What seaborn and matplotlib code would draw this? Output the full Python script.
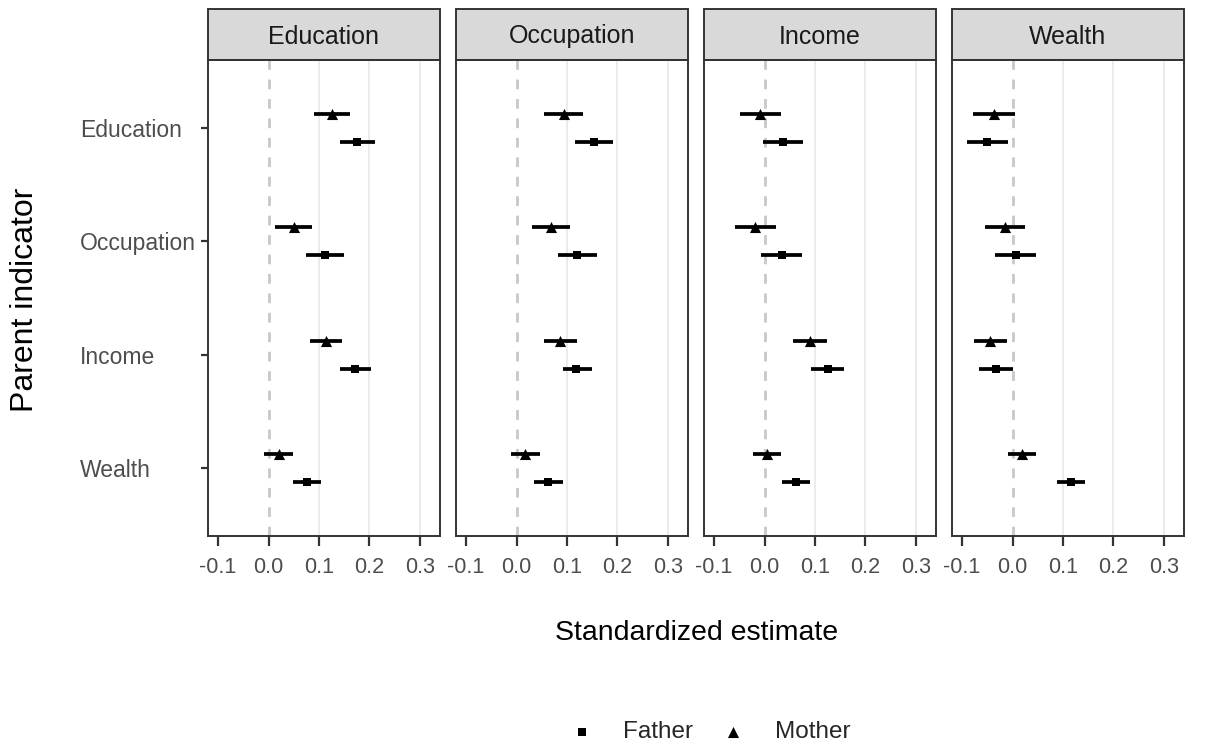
import numpy as np
import pandas as pd
import seaborn as sns
import matplotlib
matplotlib.use("Agg")
import matplotlib.pyplot as plt
from matplotlib.patches import Rectangle

# Child outcome panels and parent indicator rows
outcomes = ["Education", "Occupation", "Income", "Wealth"]
indicators = ["Education", "Occupation", "Income", "Wealth"]
parents = ["Father", "Mother"]

# Estimates and 95% CIs, one row per outcome panel, columns follow `indicators`
father_est = [[0.176, 0.112, 0.172, 0.076],
              [0.153, 0.120, 0.118, 0.063],
              [0.036, 0.034, 0.125, 0.063],
              [-0.050, 0.006, -0.032, 0.116]]
father_lo = [[0.141, 0.075, 0.142, 0.049],
             [0.116, 0.082, 0.092, 0.035],
             [-0.003, -0.007, 0.093, 0.035],
             [-0.090, -0.034, -0.066, 0.089]]
father_hi = [[0.211, 0.149, 0.203, 0.104],
             [0.191, 0.159, 0.150, 0.092],
             [0.076, 0.075, 0.158, 0.091],
             [-0.009, 0.046, 0.001, 0.143]]
mother_est = [[0.125, 0.050, 0.113, 0.020],
              [0.094, 0.069, 0.086, 0.017],
              [-0.008, -0.018, 0.090, 0.005],
              [-0.037, -0.015, -0.044, 0.019]]
mother_lo = [[0.090, 0.013, 0.083, -0.008],
             [0.055, 0.031, 0.054, -0.011],
             [-0.048, -0.058, 0.057, -0.023],
             [-0.079, -0.054, -0.077, -0.008]]
mother_hi = [[0.162, 0.087, 0.145, 0.049],
             [0.132, 0.107, 0.119, 0.046],
             [0.032, 0.023, 0.123, 0.032],
             [0.005, 0.025, -0.011, 0.046]]

x_ticks = [-0.1, 0.0, 0.1, 0.2, 0.3]
x_tick_labels = ["-0.1", "0.0", "0.1", "0.2", "0.3"]

# Long-form table
rows = []
for o, outcome in enumerate(outcomes):
    for i, ind in enumerate(indicators):
        rows.append(dict(outcome=outcome, indicator=ind, parent="Father",
                         est=father_est[o][i], lo=father_lo[o][i], hi=father_hi[o][i]))
        rows.append(dict(outcome=outcome, indicator=ind, parent="Mother",
                         est=mother_est[o][i], lo=mother_lo[o][i], hi=mother_hi[o][i]))
df = pd.DataFrame(rows)
n_ind = len(indicators)
dodge = {"Father": -0.125, "Mother": 0.125}
df["ypos"] = [n_ind - indicators.index(r.indicator) + dodge[r.parent] for r in df.itertuples()]

sns.set_theme(style="white")
plt.rcParams["font.family"] = ["Liberation Sans", "DejaVu Sans"]

W, H = 1206, 745
fig = plt.figure(figsize=(W / 100, H / 100), dpi=100)

panel_left = [208, 456, 704, 952]
panel_w = 232
panel_top, panel_bot = 60, 536
strip_h = 51
panel_h = panel_bot - panel_top

frame_col = "#333333"
tick_col = "#4d4d4d"
markers = {"Father": "s", "Mother": "^"}
sizes = {"Father": 40, "Mother": 64}

axes = []
legend_handles = {}
for o, outcome in enumerate(outcomes):
    ax = fig.add_axes([panel_left[o] / W, 1 - panel_bot / H, panel_w / W, panel_h / H])
    axes.append(ax)
    sub = df[df.outcome == outcome]

    for g in [0.1, 0.2, 0.3]:
        ax.axvline(g, color="#ebebeb", lw=1.4, zorder=0)
    ax.axvline(0, color="#c8c8c8", lw=2.0, ls=(0, (3.5, 3.5)), zorder=1)

    ax.hlines(sub["ypos"], sub["lo"], sub["hi"], color="black", lw=2.7, zorder=2)
    for p in parents:
        part = sub[sub.parent == p]
        sns.scatterplot(data=part, x="est", y="ypos", marker=markers[p], color="black",
                        s=sizes[p], linewidth=0, ax=ax, zorder=3, label=p, legend=False)
        legend_handles[p] = ax.collections[-1]

    ax.set_xlim(-0.12, 0.34)
    ax.set_ylim(0.4, 4.6)
    ax.set_xticks(x_ticks)
    ax.set_xticklabels(x_tick_labels)
    ax.set_xlabel("")
    ax.set_ylabel("")
    ax.grid(False)
    for s in ax.spines.values():
        s.set_color(frame_col)
        s.set_linewidth(1.4)
    ax.tick_params(axis="x", length=7, width=1.6, color=frame_col, labelcolor=tick_col,
                   labelsize=15.5, pad=8, bottom=True)
    if o == 0:
        ax.set_yticks([n_ind - k for k in range(n_ind)])
        ax.set_yticklabels(indicators)
        ax.tick_params(axis="y", length=5, width=1.6, color=frame_col, labelcolor=tick_col,
                       labelsize=16.5, pad=87, left=True)
        for lab in ax.get_yticklabels():
            lab.set_horizontalalignment("left")
    else:
        ax.set_yticks([])

    # facet strip
    ax.add_patch(Rectangle((0, 1), 1, strip_h / panel_h, transform=ax.transAxes,
                           clip_on=False, facecolor="#d9d9d9", edgecolor=frame_col, lw=1.4))
    ax.text(0.5, 1 + (strip_h / 2 - 2) / panel_h, outcome, transform=ax.transAxes,
            ha="center", va="center", fontsize=18, color="#1a1a1a")

fig.legend([legend_handles[p] for p in parents], parents, loc="center",
           bbox_to_anchor=(704 / W, 1 - 732 / H), ncol=2, frameon=False,
           fontsize=17.5, handletextpad=0.7, columnspacing=0.65, markerscale=1.0)

fig.text(697 / W, 1 - 633 / H, "Standardized estimate", ha="center", va="center",
         fontsize=20.5, color="black")
fig.text(25 / W, 1 - 300 / H, "Parent indicator", ha="center", va="center",
         rotation=90, fontsize=23, color="black")

fig.savefig("out.png", dpi=100, facecolor="white")
